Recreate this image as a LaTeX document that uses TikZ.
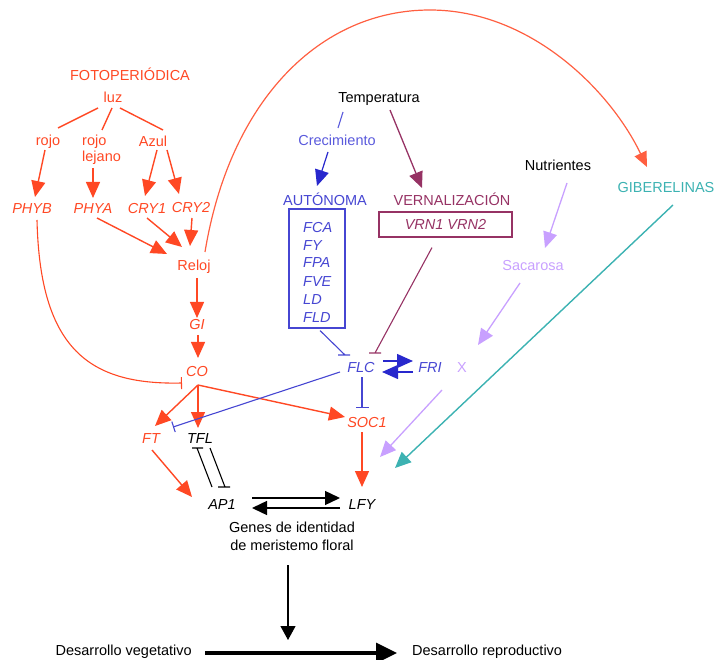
\documentclass[tikz,border=0pt]{standalone}
\usepackage{fontspec}
\setmainfont{Liberation Sans}
\usetikzlibrary{arrows.meta,calc}
\definecolor{cred}{RGB}{255,72,36}
\definecolor{carc}{RGB}{255,95,65}
\definecolor{cblue}{RGB}{70,70,210}
\definecolor{clblue}{RGB}{90,90,220}
\definecolor{cdblue}{RGB}{40,40,205}
\definecolor{cmaroon}{RGB}{150,50,100}
\definecolor{clav}{RGB}{200,160,255}
\definecolor{cteal}{RGB}{60,178,178}
\newcommand\lbfont{\fontsize{14.5}{16}\selectfont}
\begin{document}
\begin{tikzpicture}[x=1pt,y=-1pt,
  lbl/.style={inner sep=0pt, anchor=base, font=\lbfont},
  gene/.style={lbl, font=\lbfont\itshape},
  tip/.style={-{Triangle[length=16pt,width=14pt]}},
  rline/.style={draw=cred, line width=1.4pt},
  ra/.style={rline, tip},
  rthin/.style={draw=cred, line width=1.1pt},
  arcline/.style={draw=carc, line width=1.2pt, -{Triangle[length=15pt,width=13pt]}},
  bline/.style={draw=cblue, line width=1.1pt},
  cline/.style={draw=clblue, line width=1.1pt},
  ca/.style={draw=cdblue, line width=1.2pt, tip},
  dba/.style={draw=cdblue, line width=1.4pt, -{Triangle[length=16pt,width=14pt]}},
  mline/.style={draw=cmaroon, line width=1.1pt},
  ma/.style={mline, line width=1.3pt, tip},
  la/.style={draw=clav, line width=1.3pt, tip},
  ta/.style={draw=cteal, line width=1.4pt, tip},
  kline/.style={draw=black, line width=1.1pt},
  ka/.style={draw=black, line width=1.4pt, -{Triangle[length=15pt,width=14pt]}},
  kthin/.style={draw=black, line width=1.1pt, -{Triangle[length=14pt,width=15pt]}},
  kthick/.style={draw=black, line width=3.5pt, -{Triangle[length=21pt,width=20pt]}}
]
\useasboundingbox (0,0) rectangle (715,660);

% photoperiod pathway
\node[lbl,text=cred] (foto) at (130,81) {FOTOPERIÓDICA};
\node[lbl,text=cred] (luz) at (113,103) {luz};
\node[lbl,text=cred] (rojo) at (48,146) {rojo};
\node[lbl,text=cred,anchor=base west] (rojolej) at (82,146) {\begin{tabular}[t]{@{}l@{}}rojo\\lejano\end{tabular}};
\node[lbl,text=cred] (azul) at (153,147) {Azul};
\node[gene,text=cred] (phyb) at (32,214) {PHYB};
\node[gene,text=cred] (phya) at (93,214) {PHYA};
\node[gene,text=cred] (cry1) at (147,214) {CRY1};
\node[gene,text=cred] (cry2) at (191,213) {CRY2};
\node[lbl,text=cred] (reloj) at (194,271) {Reloj};
\node[gene,text=cred] (gi) at (197,330) {GI};
\node[gene,text=cred] (co) at (197,376) {CO};
\node[gene,text=cred] (ft) at (151,443) {FT};
\node[gene] (tfl) at (200,443) {TFL};
\node[gene,text=cred] (soc1) at (367,427) {SOC1};
\node[gene] (ap1) at (222,509) {AP1};
\node[gene] (lfy) at (362,509) {LFY};
\node[lbl,font=\fontsize{14.5}{18}\selectfont] (genes) at (292,532) {\begin{tabular}[t]{@{}c@{}}Genes de identidad\\de meristemo floral\end{tabular}};
\node[lbl,anchor=base east] (desveg) at (192,655) {Desarrollo vegetativo};
\node[lbl,anchor=base west] (desrep) at (412,655) {Desarrollo reproductivo};

% autonomous / vernalization
\node[lbl] (temp) at (379,103) {Temperatura};
\node[lbl,text=clblue] (crec) at (337,146) {Crecimiento};
\node[lbl,text=cblue] (autn) at (325,206) {AUTÓNOMA};
\node[draw=cblue, line width=1.1pt, minimum width=56pt, minimum height=119pt, inner sep=0pt] (aut) at (317,268.5) {};
\node[gene,text=cblue,anchor=base west] (fca) at (303,233) {FCA};
\node[gene,text=cblue,anchor=base west] (fy) at (303,251) {FY};
\node[gene,text=cblue,anchor=base west] (fpa) at (303,268) {FPA};
\node[gene,text=cblue,anchor=base west] (fve) at (303,287) {FVE};
\node[gene,text=cblue,anchor=base west] (ld) at (303,305) {LD};
\node[gene,text=cblue,anchor=base west] (fld) at (303,323) {FLD};
\node[lbl,text=cmaroon] (vern) at (452,206) {VERNALIZACIÓN};
\node[draw=cmaroon, line width=1.1pt, minimum width=133pt, minimum height=25pt, inner sep=0pt, font=\lbfont\itshape, text=cmaroon] (vrn) at (445.5,224.5) {VRN1 VRN2};
\node[gene,text=cblue] (flc) at (361,372) {FLC};
\node[gene,text=cblue] (fri) at (430,372) {FRI};
\node[lbl,text=clav] (xx) at (462,373) {X};
\node[lbl] (nutr) at (558,171) {Nutrientes};
\node[lbl,text=clav] (sac) at (533,271) {Sacarosa};
\node[lbl,text=cteal] (gib) at (666,193) {GIBERELINAS};

% photoperiod edges
\draw[rline] ($(luz.base)+(-15,5)$) -- ($(rojo.base)+(10,-18)$);
\draw[rline] ($(luz.base)+(-1,5)$) -- ($(rojolej.base west)+(20,-16)$);
\draw[rline] ($(luz.base)+(7,5)$) -- ($(azul.base)+(10,-17)$);
\draw[ra] ($(rojo.base)+(-3,4)$) -- ($(phyb.base)+(3,-17)$);
\draw[ra] ($(rojolej.base west)+(11,22)$) -- ($(phya.base)+(0,-16)$);
\draw[ra] ($(azul.base)+(4,3)$) -- ($(cry1.base)+(-2,-18)$);
\draw[ra] ($(azul.base)+(14,3)$) -- ($(cry2.base)+(-12,-19)$);
\draw[ra] ($(phya.base)+(4,4)$) -- ($(reloj.base)+(-27,-17)$);
\draw[ra] ($(cry1.base)+(0,4)$) -- ($(reloj.base)+(-12,-24)$);
\draw[ra] ($(cry2.base)+(1,5)$) -- ($(reloj.base)+(-4,-25)$);
\draw[ra] ($(reloj.base)+(3,7)$) -- ($(gi.base)+(0,-12)$);
\draw[ra] ($(gi.base)+(1,5)$) -- ($(co.base)+(1,-18)$);
\draw[rthin, -{Bar[width=12pt]}] ($(phyb.base)+(5,6)$) .. controls (40,350) and (90,385) .. ($(co.base)+(-15,7)$);
\draw[arcline] ($(reloj.base)+(11,-19)$) .. controls (230,100) and (320,10) .. (430,10) .. controls (530,10) and (610,90) .. ($(gib.base)+(-19,-26)$);
\draw[ra] ($(co.base)+(1,9)$) -- ($(ft.base)+(4,-17)$);
\draw[ra] ($(co.base)+(1,9)$) -- ($(tfl.base)+(-2,-15)$);
\draw[ra] ($(co.base)+(1,9)$) -- ($(soc1.base)+(-22,-10)$);

% temperature edges
\draw[cline] ($(temp.base)+(-36,9)$) -- ($(crec.base)+(1,-18)$);
\draw[ca] ($(crec.base)+(-9,6)$) -- ($(autn.base)+(-8,-20)$);
\draw[ma] ($(temp.base)+(11,7)$) -- ($(vern.base)+(-30,-18)$);
\draw[bline] ($(aut.south)+(3,2)$) -- ($(flc.base)+(-16,-17)$) ++(-7,0) -- ++(12,0);
\draw[mline] ($(vrn.south)+(-13.5,10)$) -- ($(flc.base)+(14,-19)$) ++(-6,0) -- ++(12,0);
\draw[dba] ($(flc.base)+(22,-11)$) -- ($(fri.base)+(-17,-11)$);
\draw[dba] ($(fri.base)+(-17,0)$) -- ($(flc.base)+(21,0)$);
\draw[bline, -{Bar[width=11pt]}] ($(flc.base)+(-21,0)$) -- ($(ft.base)+(22,-16)$);
\draw[bline, -{Bar[width=13pt]}] ($(flc.base)+(1,5)$) -- ($(soc1.base)+(-5,-19)$);

% nutrients, gibberellins
\draw[la] ($(nutr.base)+(9,12)$) -- ($(sac.base)+(12,-23)$);
\draw[la] ($(sac.base)+(-13,12)$) -- ($(xx.base)+(16,-28)$);
\draw[la] ($(xx.base)+(-20,17)$) -- ($(lfy.base)+(18,-52)$);
\draw[ta] ($(gib.base)+(7,12)$) -- ($(lfy.base)+(33,-41)$);

% meristem identity
\draw[ra] ($(soc1.base)+(-5,5)$) -- ($(lfy.base)+(0,-22)$);
\draw[ra] ($(ft.base)+(1,7)$) -- ($(ap1.base)+(-30,-12)$);
\draw[kline] ($(ap1.base)+(-10,-22)$) -- ($(tfl.base)+(-3,5)$) ++(-5,0) -- ++(11,0);
\draw[kline] ($(tfl.base)+(10,5)$) -- ($(ap1.base)+(3,-22)$) ++(-7,0) -- ++(12,0);
\draw[ka] ($(ap1.base)+(30,-11)$) -- ($(lfy.base)+(-22,-11)$);
\draw[ka] ($(lfy.base)+(-22,-1)$) -- ($(ap1.base)+(30,-1)$);
\coordinate (dtip) at (288,640);
\draw[kthin] ($(genes.base)+(-4,33)$) -- (dtip);
\draw[kthick] ($(desveg.base east)+(13,-2)$) -- ($(desrep.base west)+(-15,-2)$);
\end{tikzpicture}
\end{document}
